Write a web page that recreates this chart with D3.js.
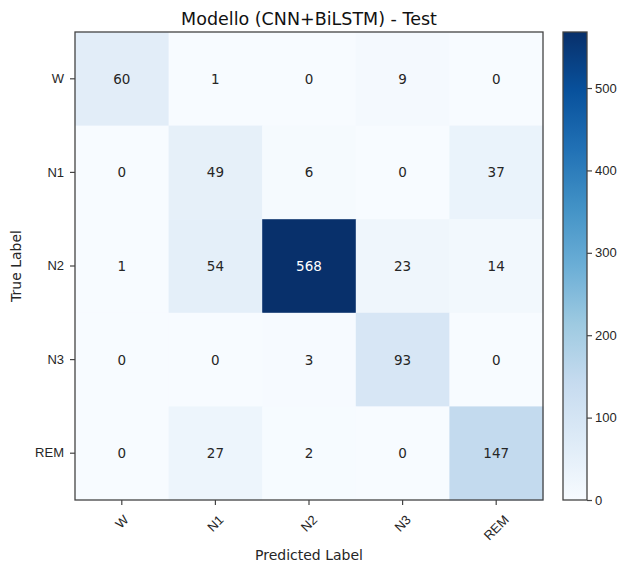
<!DOCTYPE html>
<html>
<head>
<meta charset="utf-8">
<script src="https://cdn.jsdelivr.net/npm/d3@7"></script>
<style>
  html, body { margin: 0; padding: 0; background: #fff; }
  svg { display: block; font-family: "DejaVu Sans", sans-serif; }
  .tick text { fill: #262626; }
</style>
</head>
<body>
<div id="chart"></div>
<script>
// Confusion matrix values, rows = true label, columns = predicted label
const classes = ['W', 'N1', 'N2', 'N3', 'REM'];
const matrix = [
  [60, 1, 0, 9, 0],
  [0, 49, 6, 0, 37],
  [1, 54, 568, 23, 14],
  [0, 0, 3, 93, 0],
  [0, 27, 2, 0, 147]
];
const colorbarTicks = [0, 100, 200, 300, 400, 500];

// matplotlib "Blues" stops
const BLUES = ['#f7fbff', '#deebf7', '#c6dbef', '#9ecae1', '#6baed6', '#4292c6', '#2171b5', '#08519c', '#08306b'];

const WIDTH = 627;
const HEIGHT = 567;
const PLOT = {left: 75, top: 32, size: 468};
const CBAR = {left: 563, width: 24};
const TICK_FONT = 13;

const cells = matrix.flatMap((row, i) => row.map((value, j) => ({row: classes[i], col: classes[j], value})));
const vmax = d3.max(cells, (d) => d.value);

const color = d3.scaleLinear()
  .domain(BLUES.map((_, k) => (k / (BLUES.length - 1)) * vmax))
  .range(BLUES)
  .interpolate(d3.interpolateRgb)
  .clamp(true);

const svg = d3.select('#chart').append('svg')
  .attr('width', WIDTH)
  .attr('height', HEIGHT);

const x = d3.scaleBand().domain(classes).range([PLOT.left, PLOT.left + PLOT.size]);
const y = d3.scaleBand().domain(classes).range([PLOT.top, PLOT.top + PLOT.size]);

// heatmap cells
svg.append('g')
  .selectAll('rect')
  .data(cells)
  .join('rect')
  .attr('x', (d) => x(d.col))
  .attr('y', (d) => y(d.row))
  .attr('width', x.bandwidth() + 0.5)
  .attr('height', y.bandwidth() + 0.5)
  .attr('fill', (d) => color(d.value));

// cell annotations
svg.append('g')
  .selectAll('text')
  .data(cells)
  .join('text')
  .attr('x', (d) => x(d.col) + x.bandwidth() / 2)
  .attr('y', (d) => y(d.row) + y.bandwidth() / 2)
  .attr('text-anchor', 'middle')
  .attr('dominant-baseline', 'central')
  .attr('font-size', 13.5)
  .attr('fill', (d) => (d.value > vmax / 2 ? '#fff' : '#262626'))
  .text((d) => d.value);

// frame
svg.append('rect')
  .attr('x', PLOT.left)
  .attr('y', PLOT.top)
  .attr('width', PLOT.size)
  .attr('height', PLOT.size)
  .attr('fill', 'none')
  .attr('stroke', '#444')
  .attr('stroke-width', 1.3);

// axes
const xAxis = svg.append('g')
  .attr('transform', `translate(0,${PLOT.top + PLOT.size})`)
  .call(d3.axisBottom(x).tickSize(5).tickPadding(3));
xAxis.select('.domain').remove();
xAxis.selectAll('.tick line').attr('stroke', '#444').attr('stroke-width', 1.2);
xAxis.selectAll('.tick text')
  .attr('font-size', TICK_FONT)
  .attr('text-anchor', 'middle')
  .attr('dy', null)
  .attr('y', null)
  .attr('dominant-baseline', 'central')
  .attr('transform', function()
  {
    // matplotlib-style: rotated bbox centred on the tick, its top just below the pad
    const len = this.getComputedTextLength();
    const h = (len + TICK_FONT * 0.75) * Math.SQRT1_2;
    return `translate(0,${14 + h / 2}) rotate(-45)`;
  });

const yAxis = svg.append('g')
  .attr('transform', `translate(${PLOT.left},0)`)
  .call(d3.axisLeft(y).tickSize(5).tickPadding(6));
yAxis.select('.domain').remove();
yAxis.selectAll('.tick line').attr('stroke', '#444').attr('stroke-width', 1.2);
yAxis.selectAll('.tick text').attr('font-size', TICK_FONT);

// axis titles
svg.append('text')
  .attr('x', PLOT.left + PLOT.size / 2)
  .attr('y', 560)
  .attr('text-anchor', 'middle')
  .attr('font-size', 14)
  .attr('fill', '#262626')
  .text('Predicted Label');

svg.append('text')
  .attr('transform', `translate(21,${PLOT.top + PLOT.size / 2}) rotate(-90)`)
  .attr('text-anchor', 'middle')
  .attr('font-size', 14)
  .attr('fill', '#262626')
  .text('True Label');

svg.append('text')
  .attr('x', PLOT.left + PLOT.size / 2)
  .attr('y', 25)
  .attr('text-anchor', 'middle')
  .attr('font-size', 17.5)
  .attr('fill', '#111')
  .text('Modello (CNN+BiLSTM) - Test');

// colorbar
const defs = svg.append('defs');
const grad = defs.append('linearGradient')
  .attr('id', 'cbar')
  .attr('x1', 0).attr('y1', 1)
  .attr('x2', 0).attr('y2', 0);
grad.selectAll('stop')
  .data(BLUES)
  .join('stop')
  .attr('offset', (_, k) => k / (BLUES.length - 1))
  .attr('stop-color', (d) => d);

const cScale = d3.scaleLinear().domain([0, vmax]).range([PLOT.top + PLOT.size, PLOT.top]);

svg.append('rect')
  .attr('x', CBAR.left)
  .attr('y', PLOT.top)
  .attr('width', CBAR.width)
  .attr('height', PLOT.size)
  .attr('fill', 'url(#cbar)')
  .attr('stroke', '#444')
  .attr('stroke-width', 1.3);

const cAxis = svg.append('g')
  .attr('transform', `translate(${CBAR.left + CBAR.width},0)`)
  .call(d3.axisRight(cScale).tickValues(colorbarTicks).tickSize(5).tickPadding(3));
cAxis.select('.domain').remove();
cAxis.selectAll('.tick line').attr('stroke', '#444').attr('stroke-width', 1.2);
cAxis.selectAll('.tick text').attr('font-size', TICK_FONT);
</script>
</body>
</html>
